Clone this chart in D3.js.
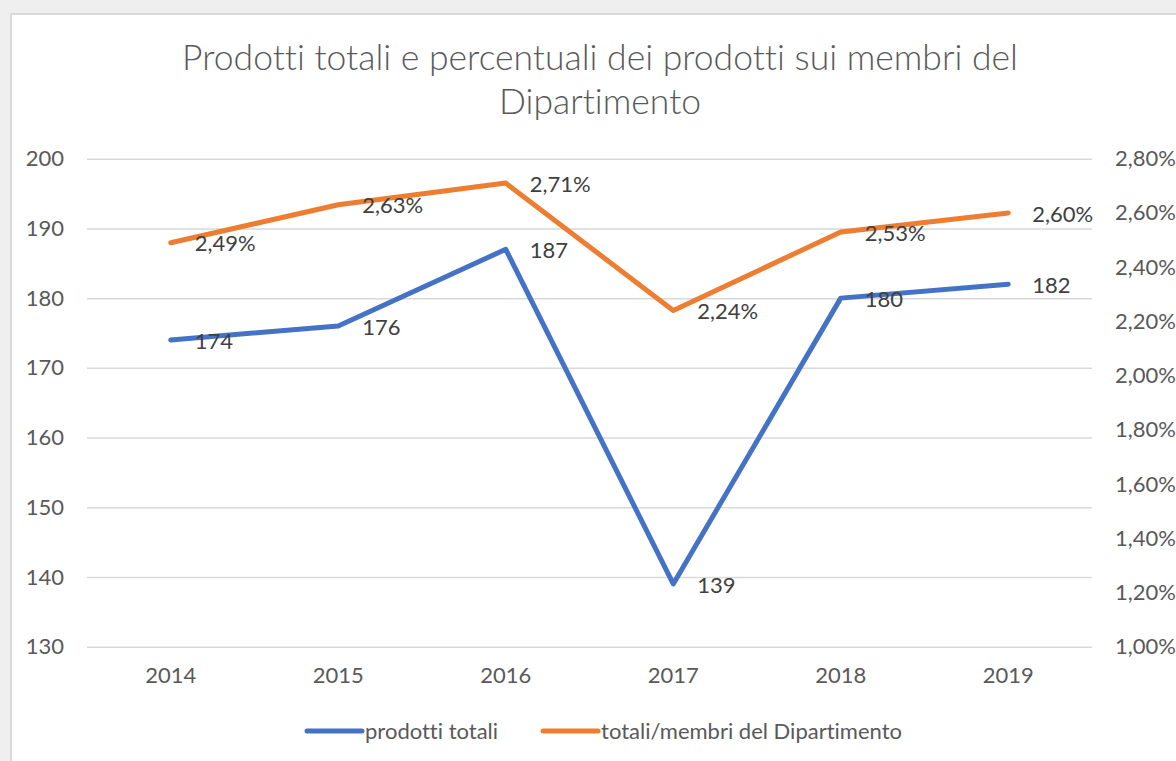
<!DOCTYPE html>
<html>
<head>
<meta charset="utf-8">
<script src="https://cdn.jsdelivr.net/npm/d3@7"></script>
<style>
  body { margin: 0; background: #efefef; }
  text { font-family: Lato, "Noto Sans", sans-serif; font-variant-ligatures: none; }
</style>
</head>
<body>
<svg id="chart"></svg>
<script>
const years = ['2014', '2015', '2016', '2017', '2018', '2019'];
const prodottiTotali = [174, 176, 187, 139, 180, 182];
const totaliSuMembri = [0.0249, 0.0263, 0.0271, 0.0224, 0.0253, 0.0260];
const leftTicks = [130, 140, 150, 160, 170, 180, 190, 200];
const rightTicks = [0.010, 0.012, 0.014, 0.016, 0.018, 0.020, 0.022, 0.024, 0.026, 0.028];
const seriesNames = ['prodotti totali', 'totali/membri del Dipartimento'];
const titleLines = ['Prodotti totali e percentuali dei prodotti sui membri del', 'Dipartimento'];

const width = 1176;
const height = 761;
const plot = { left: 87, right: 1092, top: 158.7, bottom: 646.7 };
const colors = ['#4472c4', '#ed7d31'];
const axisColor = '#595959';
const labelColor = '#404040';

const it = d3.formatLocale({ decimal: ',', thousands: '.', grouping: [3], currency: ['', '€'], percent: '%' });
const pct = it.format('.2%');

const svg = d3.select('#chart')
  .attr('width', width)
  .attr('height', height);

// chart area
svg.append('rect')
  .attr('x', 11)
  .attr('y', 14)
  .attr('width', width + 20)
  .attr('height', height + 20)
  .attr('fill', '#fff')
  .attr('stroke', '#d9d9d9')
  .attr('stroke-width', 2);

// title
svg.append('text')
  .attr('text-anchor', 'middle')
  .attr('fill', axisColor)
  .style('font-size', '35.5px')
  .style('font-weight', 300)
  .selectAll('tspan')
  .data(titleLines)
  .join('tspan')
  .attr('x', 600)
  .attr('y', (d, i) => 70 + i * 44)
  .text(d => d);

const xScale = d3.scaleBand()
  .domain(years)
  .range([plot.left, plot.right]);
const cx = d => xScale(d) + xScale.bandwidth() / 2;

const yLeft = d3.scaleLinear()
  .domain([130, 200])
  .range([plot.bottom, plot.top]);

const yRight = d3.scaleLinear()
  .domain([0.010, 0.028])
  .range([plot.bottom, plot.top]);

// left axis + gridlines
const gLeft = svg.append('g')
  .attr('transform', `translate(${plot.left}, 0)`)
  .call(d3.axisLeft(yLeft)
    .tickValues(leftTicks)
    .tickSizeInner(-(plot.right - plot.left))
    .tickSizeOuter(0)
    .tickPadding(23));
gLeft.select('.domain').remove();
gLeft.selectAll('line').attr('stroke', '#d9d9d9').attr('stroke-width', 1.5);
gLeft.selectAll('text').attr('fill', axisColor).style('font-size', '22px').style('font-family', 'Lato');

// right axis
const gRight = svg.append('g')
  .attr('transform', `translate(${plot.right}, 0)`)
  .call(d3.axisRight(yRight)
    .tickValues(rightTicks)
    .tickSize(0)
    .tickPadding(23)
    .tickFormat(pct));
gRight.select('.domain').remove();
gRight.selectAll('text').attr('fill', axisColor).style('font-size', '22px').style('font-family', 'Lato');

// x axis
const gX = svg.append('g')
  .attr('transform', `translate(0, ${plot.bottom})`)
  .call(d3.axisBottom(xScale).tickSize(0).tickPadding(21));
gX.select('.domain').remove();
gX.selectAll('text').attr('fill', axisColor).style('font-size', '22px').style('font-family', 'Lato');

// lines
const series = [
  { name: seriesNames[0], values: prodottiTotali, y: yLeft, fmt: d => d },
  { name: seriesNames[1], values: totaliSuMembri, y: yRight, fmt: pct }
];

series.forEach((s, i) => {
  const lineGen = d3.line()
    .x((d, j) => cx(years[j]))
    .y(d => s.y(d));

  svg.append('path')
    .datum(s.values)
    .attr('d', lineGen)
    .attr('fill', 'none')
    .attr('stroke', colors[i])
    .attr('stroke-width', 5)
    .attr('stroke-linecap', 'round')
    .attr('stroke-linejoin', 'round');
});

// data labels
series.forEach(s => {
  svg.append('g')
    .selectAll('text')
    .data(s.values)
    .join('text')
    .attr('x', (d, j) => cx(years[j]) + 24)
    .attr('y', d => s.y(d) + 1)
    .attr('dy', '0.35em')
    .attr('fill', labelColor)
    .style('font-size', '22px')
    .text(s.fmt);
});

// legend
const legend = svg.append('g')
  .attr('transform', 'translate(0, 731)');

const legendItems = legend.selectAll('g')
  .data(series)
  .join('g');

legendItems.append('line')
  .attr('x1', 0)
  .attr('x2', 55)
  .attr('stroke', (d, i) => colors[i])
  .attr('stroke-width', 5)
  .attr('stroke-linecap', 'round');

legendItems.append('text')
  .attr('x', 58)
  .attr('dy', '0.35em')
  .attr('fill', axisColor)
  .style('font-size', '22px')
  .text(d => d.name);

const widths = [];
legendItems.each(function () {
  widths.push(58 + this.querySelector('text').getComputedTextLength());
});
const gap = 45;
const total = d3.sum(widths) + gap * (widths.length - 1);
let start = 604.5 - total / 2;
legendItems.attr('transform', (d, i) => {
  const x = start;
  start += widths[i] + gap;
  return `translate(${x}, 0)`;
});
</script>
</body>
</html>
